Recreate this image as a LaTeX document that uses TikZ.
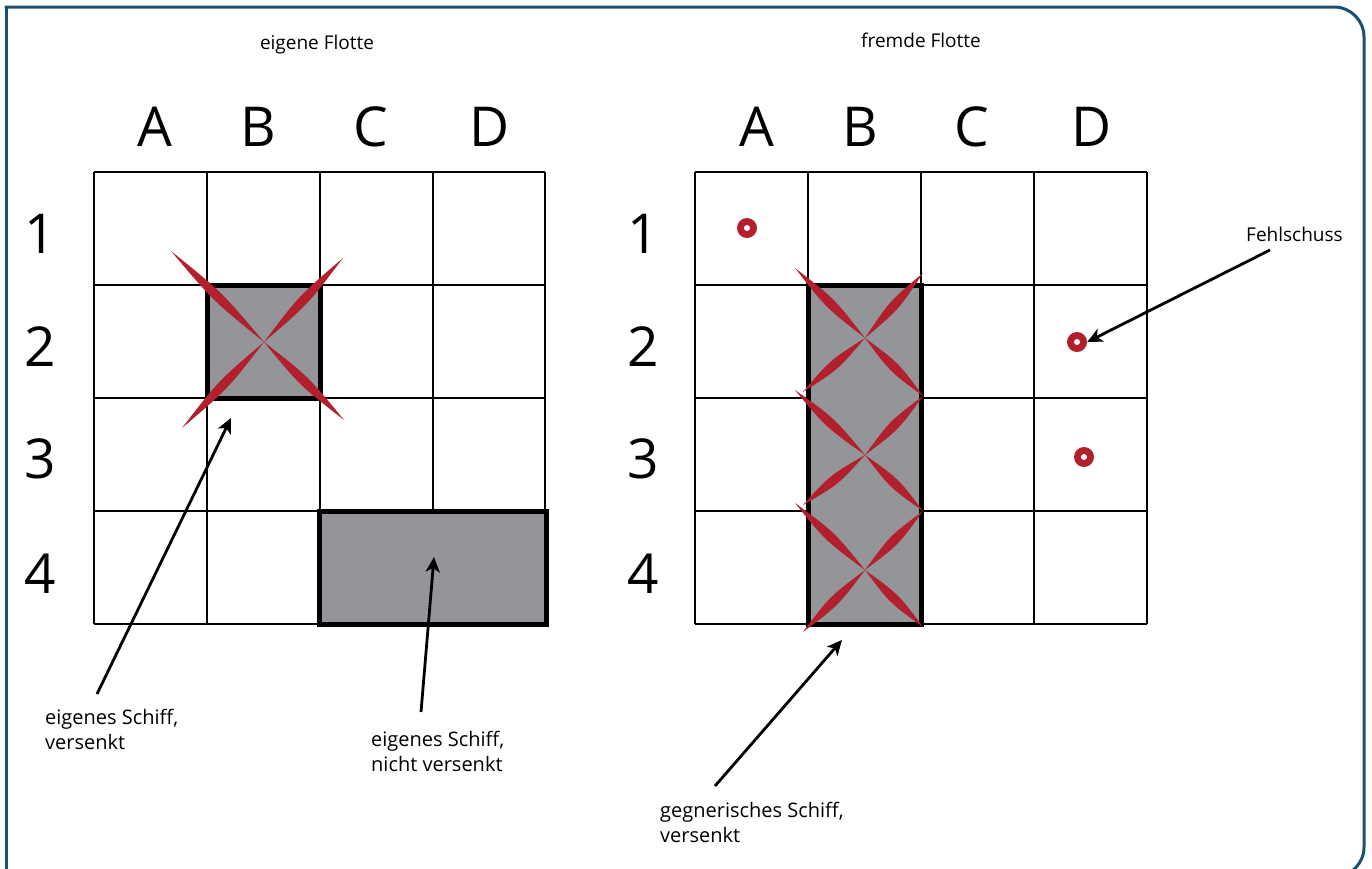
\documentclass[tikz,border=0pt]{standalone}
\usepackage{fontspec}
\setmainfont{Open Sans}
\usetikzlibrary{arrows.meta,calc}
\definecolor{framecol}{HTML}{1B4F72}
\definecolor{hitred}{HTML}{B21F2D}
\definecolor{shipgray}{HTML}{939598}
\newcommand\hitarm[2]{\fill[hitred] (#1) .. controls ($(#1)!0.5!(#2)!6.2pt!90:(#2)$) .. (#2) .. controls ($(#1)!0.5!(#2)!6.2pt!-90:(#2)$) .. (#1) -- cycle;}
\tikzset{
  gridline/.style={line width=1.4pt, black},
  shipbox/.style={fill=shipgray, draw=black, line width=5pt},
  frame/.style={draw=framecol, line width=3pt},
  head/.style={font=\fontsize{19}{23}\selectfont, inner sep=0pt},
  big/.style={font=\fontsize{55}{60}\selectfont, inner sep=0pt},
  lbl/.style={font=\fontsize{20}{24.5}\selectfont, align=left, anchor=north west, inner sep=0pt},
  pointer/.style={line width=2.8pt, -{Stealth[length=15pt,width=14pt,inset=4pt]}},
  miss/.style={circle, fill=hitred, minimum size=20pt, inner sep=0pt},
  misshole/.style={circle, fill=white, minimum size=6pt, inner sep=0pt}
}
\begin{document}
\begin{tikzpicture}[x=1pt,y=-1pt]
\useasboundingbox (0,0) rectangle (1372,868);
% frame
\draw[frame, rounded corners=30] (4.5,7) -- (1364,7) -- (1364,877) -- (4.5,877);
\draw[frame] (6,5.5) -- (6,880);
% headings
\node[head] (hL) at (317,45) {eigene Flotte};
\node[head] (hR) at (921,40) {fremde Flotte};
% column letters
\foreach \l/\x [count=\i] in {A/155,B/258,C/371,D/490} \node[big] (cl\i) at (\x,127) {\l};
\foreach \l/\x [count=\i] in {A/757,B/860,C/972,D/1092} \node[big] (cr\i) at (\x,127) {\l};
% row numbers
\foreach \n/\y in {1/234,2/347,3/459,4/574} {
  \node[big] (rl\n) at (40,\y) {\n};
  \node[big] (rr\n) at (643,\y) {\n};
}
% left grid
\foreach \x in {94,207,320,433,545} \draw[gridline] (\x,172) -- (\x,624);
\foreach \y in {172,285,398,511,624} \draw[gridline] (94,\y) -- (545,\y);
% right grid
\foreach \x in {695,808,921,1034,1147} \draw[gridline] (\x,172) -- (\x,624);
\foreach \y in {172,285,398,511,624} \draw[gridline] (695,\y) -- (1147,\y);
% ships
\node[shipbox, minimum width=113pt, minimum height=113pt, inner sep=0pt] (shipA) at (263.5,341.5) {};
\node[shipbox, minimum width=227pt, minimum height=113pt, inner sep=0pt] (shipB) at (433,567.5) {};
\node[shipbox, minimum width=113pt, minimum height=339pt, inner sep=0pt] (shipC) at (864.5,454.5) {};
% hits on own ship
\coordinate (xc) at (264,342);
\hitarm{xc}{171,251}
\hitarm{xc}{343,258}
\hitarm{xc}{182,428}
\hitarm{xc}{344,420}
% hits on enemy ship
\foreach \cy/\lt/\rt/\lb/\rb in {338/268/273/392/396, 455/390/396/505/511, 570/503/511/632/627} {
  \coordinate (hc) at (865,\cy);
  \hitarm{hc}{795,\lt}
  \hitarm{hc}{923,\rt}
  \hitarm{hc}{803,\lb}
  \hitarm{hc}{923,\rb}
}
% misses
\node[miss] (m1) at (747,228) {};
\node[misshole] at (m1) {};
\node[miss] (m2) at (1077,342) {};
\node[misshole] at (m2) {};
\node[miss] (m3) at (1084,457) {};
\node[misshole] at (m3) {};
% labels
\node[lbl] (l1) at (45,709) {eigenes Schiff,\\versenkt};
\node[lbl] (l2) at (371,731) {eigenes Schiff,\\nicht versenkt};
\node[lbl] (l3) at (660,802) {gegnerisches Schiff,\\versenkt};
\node[head, anchor=west] (l4) at (1246,234) {Fehlschuss};
% arrows
\coordinate (s1) at (97,694);
\coordinate (t1) at (231,418);
\coordinate (s2) at (421,712);
\coordinate (t2) at (434,557);
\coordinate (s3) at (715,786);
\coordinate (t3) at (842,640);
\coordinate (s4) at (1270,250);
\draw[pointer] (s1) -- (t1);
\draw[pointer] (s2) -- (t2);
\draw[pointer] (s3) -- (t3);
\draw[pointer] (s4) -- (m2.east);
\end{tikzpicture}
\end{document}
